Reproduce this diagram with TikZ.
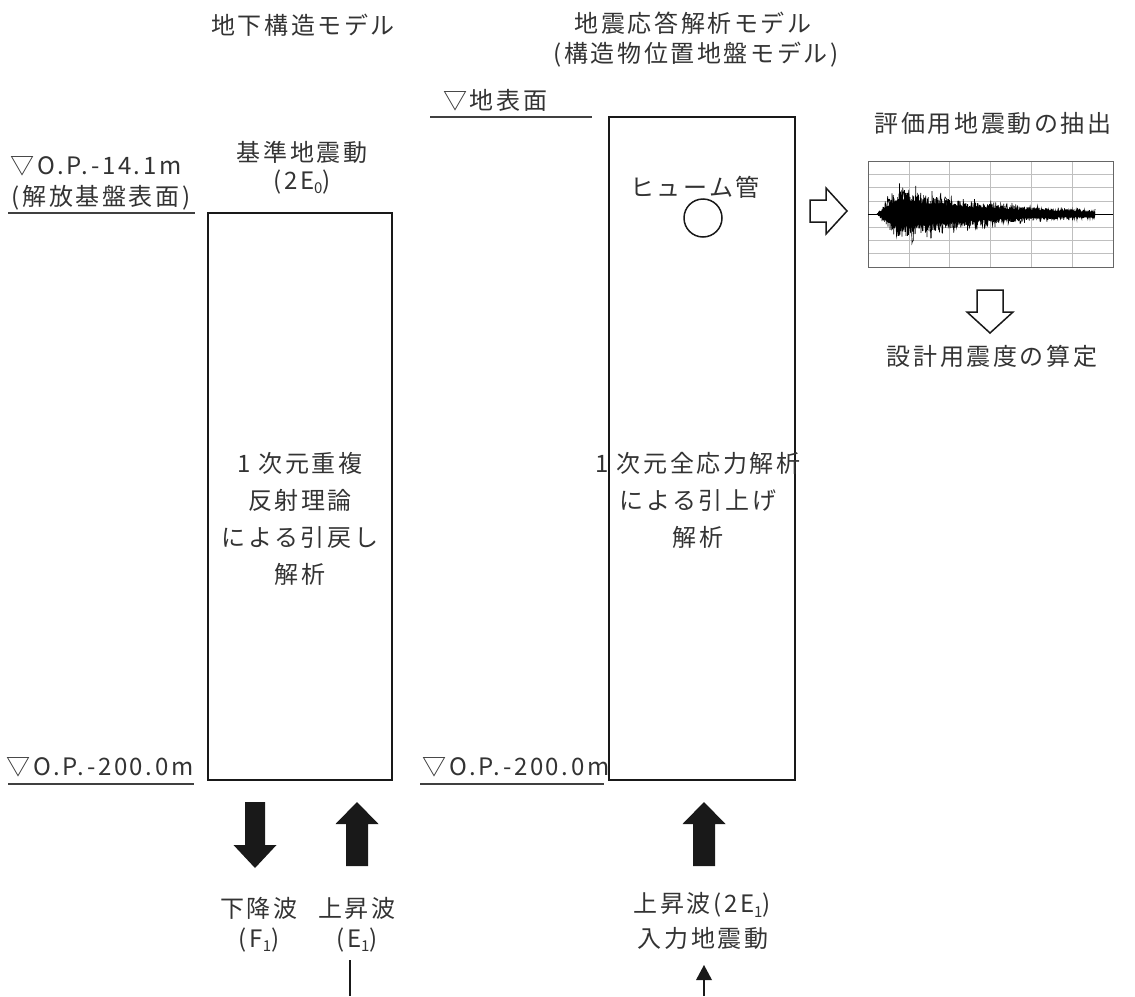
\documentclass[tikz,border=0pt]{standalone}
\usepackage{fontspec}
\usetikzlibrary{calc}
\setmainfont{Noto Sans CJK JP}[LetterSpace=11]
\newcommand{\mysub}[1]{{\fontsize{15}{15}\selectfont\raisebox{-0.3em}{#1}}}
\begin{document}
\begin{tikzpicture}[x=1pt,y=-1pt,
  txt/.style={inner sep=0pt, text=black!80, font=\fontsize{24}{37}\selectfont, align=center},
  box/.style={draw=black!90, line width=1.8pt, fill=none, inner sep=0pt},
  gline/.style={draw=black!75, line width=1.4pt},
  solidarrow/.style={fill=black!90, draw=none},
  hollow/.style={draw=black!90, line width=1.5pt, fill=white, line join=miter},
  gridline/.style={draw=black!25, line width=0.6pt},
  declare function={wenv(\t)=(\t<877)?0:((\t<897)?34*(\t-877)/20:34*exp(-(\t-897)/105));}
]
\useasboundingbox (0,0) rectangle (1135,996);

% ---------- left model ----------
\node[txt] (ltitle) at (303,25) {地下構造モデル};
\node[txt] (lev1) at (96,166) {▽O.P.-14.1m};
\node[txt] (lev1b) at (101,198) {(解放基盤表面)};
\draw[gline] (8,213) coordinate (l1a) -- (195,213) coordinate (l1b);
\node[txt] (kijun) at (302,152) {基準地震動};
\node[txt] (e0) at (302,182) {(2E\mysub{0})};
\node[box, minimum width=184pt, minimum height=567pt] (lbox) at (300,496.5) {};
\node[txt] (ltext) at (300,518.5) {1 次元重複\\反射理論\\による引戻し\\解析};
\node[txt] (lev2) at (100,767) {▽O.P.-200.0m};
\draw[gline] (8,784) coordinate (l2a) -- (194,784) coordinate (l2b);

% solid arrows left
\coordinate (dn) at (255,802);
\fill[solidarrow] ($(dn)+(-10,0)$) -- ($(dn)+(10,0)$) -- ($(dn)+(10,43)$) -- ($(dn)+(21.5,43)$)
  -- ($(dn)+(0,66)$) -- ($(dn)+(-21.5,43)$) -- ($(dn)+(-10,43)$) -- cycle;
\coordinate (up) at (357,802);
\fill[solidarrow] (up) -- ($(up)+(21.5,22)$) -- ($(up)+(11,22)$) -- ($(up)+(11,64)$)
  -- ($(up)+(-11,64)$) -- ($(up)+(-11,22)$) -- ($(up)+(-21.5,22)$) -- cycle;
\node[txt] (kako) at (259,908) {下降波};
\node[txt] (josho) at (357,908) {上昇波};
\node[txt] (f1) at (259,940) {(F\mysub{1})};
\node[txt] (e1) at (357,940) {(E\mysub{1})};
\coordinate (lbot) at (350,996);
\draw[black!90, line width=1.3pt] (350,960) -- (lbot);

% ---------- right model ----------
\node[txt] (rtitle) at (693,23) {地震応答解析モデル};
\node[txt] (rtitle2) at (696,55) {(構造物位置地盤モデル)};
\node[txt, anchor=west] (surf) at (443,100) {▽地表面};
\draw[gline] (430,117) coordinate (s1a) -- (592,117) coordinate (s1b);
\node[box, minimum width=186pt, minimum height=663pt] (rbox) at (702,448.5) {};
\node[txt] (hume) at (695,187) {ヒューム管};
\node[draw=black!90, line width=1.5pt, circle, minimum size=38pt, inner sep=0pt] (pipe) at (703,218) {};
\node[txt] (rtext) at (698,500) {1 次元全応力解析\\による引上げ\\解析};
\node[txt] (lev3) at (516,767) {▽O.P.-200.0m};
\draw[gline] (420,784) coordinate (l3a) -- (604,784) coordinate (l3b);

\coordinate (up2) at (704,802);
\fill[solidarrow] (up2) -- ($(up2)+(21.5,22)$) -- ($(up2)+(11,22)$) -- ($(up2)+(11,64)$)
  -- ($(up2)+(-11,64)$) -- ($(up2)+(-11,22)$) -- ($(up2)+(-21.5,22)$) -- cycle;
\node[txt] (josho2) at (702,905) {上昇波(2E\mysub{1})};
\node[txt] (input) at (703,938) {入力地震動};
\coordinate (rbot) at (704,996);
\coordinate (rtip) at (704,965);
\draw[black!90, line width=1.3pt] (rbot) -- ($(rtip)+(0,12)$);
\fill[black!90] (rtip) -- ($(rtip)+(8,15)$) -- ($(rtip)+(-8,15)$) -- cycle;

% ---------- evaluation ----------
\draw[hollow] (810,200) -- (826,200) -- (826,188) -- (847,211) -- (826,234) -- (826,222) -- (810,222) -- cycle;
\node[txt] (hyoka) at (993,123) {評価用地震動の抽出};
\foreach \yy in {174.3,187.6,200.9,227.1,240.4,253.7} \draw[gridline] (868,\yy) -- (1113,\yy);
\foreach \xx in {908.8,949.6,990.4,1031.2,1072} \draw[gridline] (\xx,161) -- (\xx,267);
\draw[black!60, line width=1pt] (868,161) rectangle (1113,267);
\draw[black, line width=0.8pt] (868,214) -- (1113,214);
\pgfmathsetseed{11}
\fill[black] plot[domain=877:1095, samples=220] (\x,{214-0.5*wenv(\x)*(0.75+0.25*rnd)})
  -- plot[domain=1095:877, samples=220] (\x,{214+0.5*wenv(\x)*(0.75+0.25*rnd)}) -- cycle;
\draw[black, line width=0.7pt] plot[domain=877:1095, samples=1600] (\x,{214+0.72*wenv(\x)*rand});
\draw[black, line width=0.6pt] plot[domain=877:1095, samples=350] (\x,{214+wenv(\x)*rand});
\draw[hollow] (977,290) -- (1003,290) -- (1003,312) -- (1013,312) -- (990,333) -- (967,312) -- (977,312) -- cycle;
\node[txt] (sekkei) at (992,356) {設計用震度の算定};
\end{tikzpicture}
\end{document}
